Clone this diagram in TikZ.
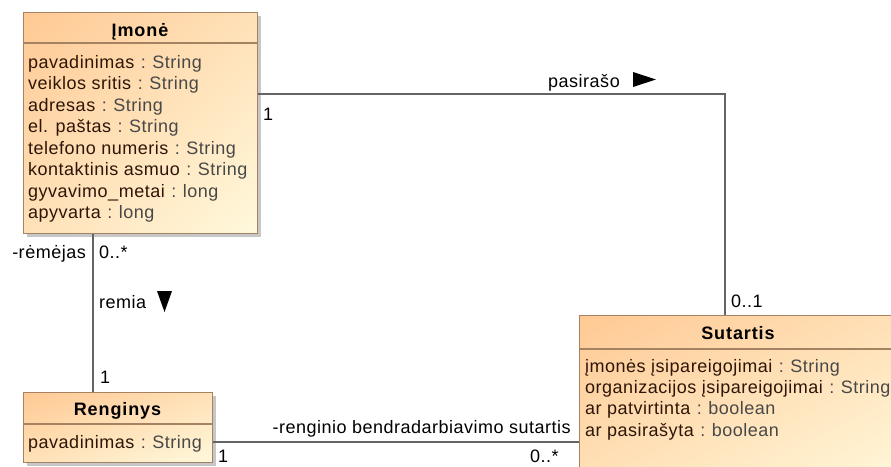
\documentclass[tikz,border=0pt]{standalone}
\usepackage{fontspec}
\setmainfont{Liberation Sans}
\newfontfamily\umlfont[LetterSpace=2.8]{Liberation Sans}
\newfontfamily\umlboldfont[LetterSpace=5]{Liberation Sans Bold}
\usetikzlibrary{shadows,shadings}

\definecolor{boxtl}{RGB}{255,201,148}
\definecolor{boxbr}{RGB}{255,249,220}
\colorlet{boxmid}{boxtl!50!boxbr}
\definecolor{boxedge}{RGB}{165,130,98}
\definecolor{attrname}{RGB}{45,22,8}
\definecolor{attrtype}{RGB}{72,72,72}
\definecolor{wire}{RGB}{100,100,100}

% one attribute line: name in dark brown, type in grey
\newcommand\attrline[2]{\textcolor{attrname}{#1}\hspace{6.5pt}\textcolor{attrtype}{:\hspace{6.5pt}#2}}

\tikzset{
  umltext/.style={font=\umlfont\fontsize{18}{20}\selectfont, inner sep=0pt},
  classbox/.style={rectangle, draw=boxedge, line width=1.3pt, anchor=north west,
    inner sep=0pt, upper left=boxtl, lower right=boxbr, upper right=boxmid, lower left=boxmid,
    drop shadow={shadow xshift=3.5pt, shadow yshift=-3.5pt, fill=black!22, opacity=1}},
  divider/.style={draw=boxedge, line width=1.3pt},
  classname/.style={inner sep=0pt, font=\umlboldfont\fontsize{18}{20}\selectfont, anchor=base},
  attr/.style={umltext, anchor=base west},
  lbl/.style={umltext, anchor=base west, text=black},
  lble/.style={umltext, anchor=base east, text=black},
  assoc/.style={draw=wire, line width=1.4pt},
  navtri/.style={fill=black},
}

\begin{document}
\begin{tikzpicture}[x=1pt, y=-1pt]
\useasboundingbox (0,0) rectangle (891,466);
\clip (0,0) rectangle (891,466);
\fill[white] (0,0) rectangle (891,466);

% ---------- classes ----------
\node[classbox, minimum width=234, minimum height=221] (imone) at (23,12) {};
\draw[divider] ([yshift=-31pt]imone.north west) -- ([yshift=-31pt]imone.north east);
\node[classname] (imone-t) at (140,36) {Įmonė};
\foreach \nm/\ty [count=\i] in {pavadinimas/String, veiklos sritis/String, adresas/String,
    el. paštas/String, telefono numeris/String, kontaktinis asmuo/String,
    gyvavimo\_metai/long, apyvarta/long}
  \node[attr] (imone-a\i) at (28,{68+21.57*(\i-1)}) {\attrline{\nm}{\ty}};

\node[classbox, minimum width=189, minimum height=70] (renginys) at (23,392) {};
\draw[divider] ([yshift=-32pt]renginys.north west) -- ([yshift=-32pt]renginys.north east);
\node[classname] (renginys-t) at (117.5,415) {Renginys};
\node[attr] (renginys-a1) at (28,448) {\attrline{pavadinimas}{String}};

\node[classbox, minimum width=330, minimum height=170] (sutartis) at (579,315) {};
\draw[divider] ([yshift=-34pt]sutartis.north west) -- ([yshift=-34pt]sutartis.north east);
\node[classname] (sutartis-t) at (738,339) {Sutartis};
\foreach \nm/\ty [count=\i] in {įmonės įsipareigojimai/String,
    organizacijos įsipareigojimai/String, ar patvirtinta/boolean, ar pasirašyta/boolean}
  \node[attr] (sutartis-a\i) at (585,{372+21.4*(\i-1)}) {\attrline{\nm}{\ty}};

% ---------- associations ----------
\coordinate (bend) at (725,94);
\draw[assoc] (imone.east |- bend) -- (bend) -- (sutartis.north -| bend);
\coordinate (remx) at (93,0);
\draw[assoc] (imone.south -| remx) -- (renginys.north -| remx);
\coordinate (bsy) at (0,442);
\draw[assoc] (renginys.east |- bsy) -- (sutartis.west |- bsy);

% ---------- association labels ----------
\node[lbl] (pas) at (548,87) {pasirašo};
\fill[navtri] (633,72) -- (656,79.5) -- (633,87) -- cycle;
\node[lbl] (m1) at (263,120) {1};
\node[lbl] (m2) at (731,307) {0..1};

\node[lble] (rem-role) at (86,258) {-rėmėjas};
\node[lbl] (m3) at (99,258) {0..*};
\node[lbl] (remia) at (99,308) {remia};
\fill[navtri] (157,291) -- (172,291) -- (164.5,312) -- cycle;
\node[lbl] (m4) at (100,383) {1};

\node[lble] (bs-role) at (571,433) {-renginio bendradarbiavimo sutartis};
\node[lbl] (m5) at (218,462) {1};
\node[lbl] (m6) at (530,462) {0..*};
\end{tikzpicture}
\end{document}
